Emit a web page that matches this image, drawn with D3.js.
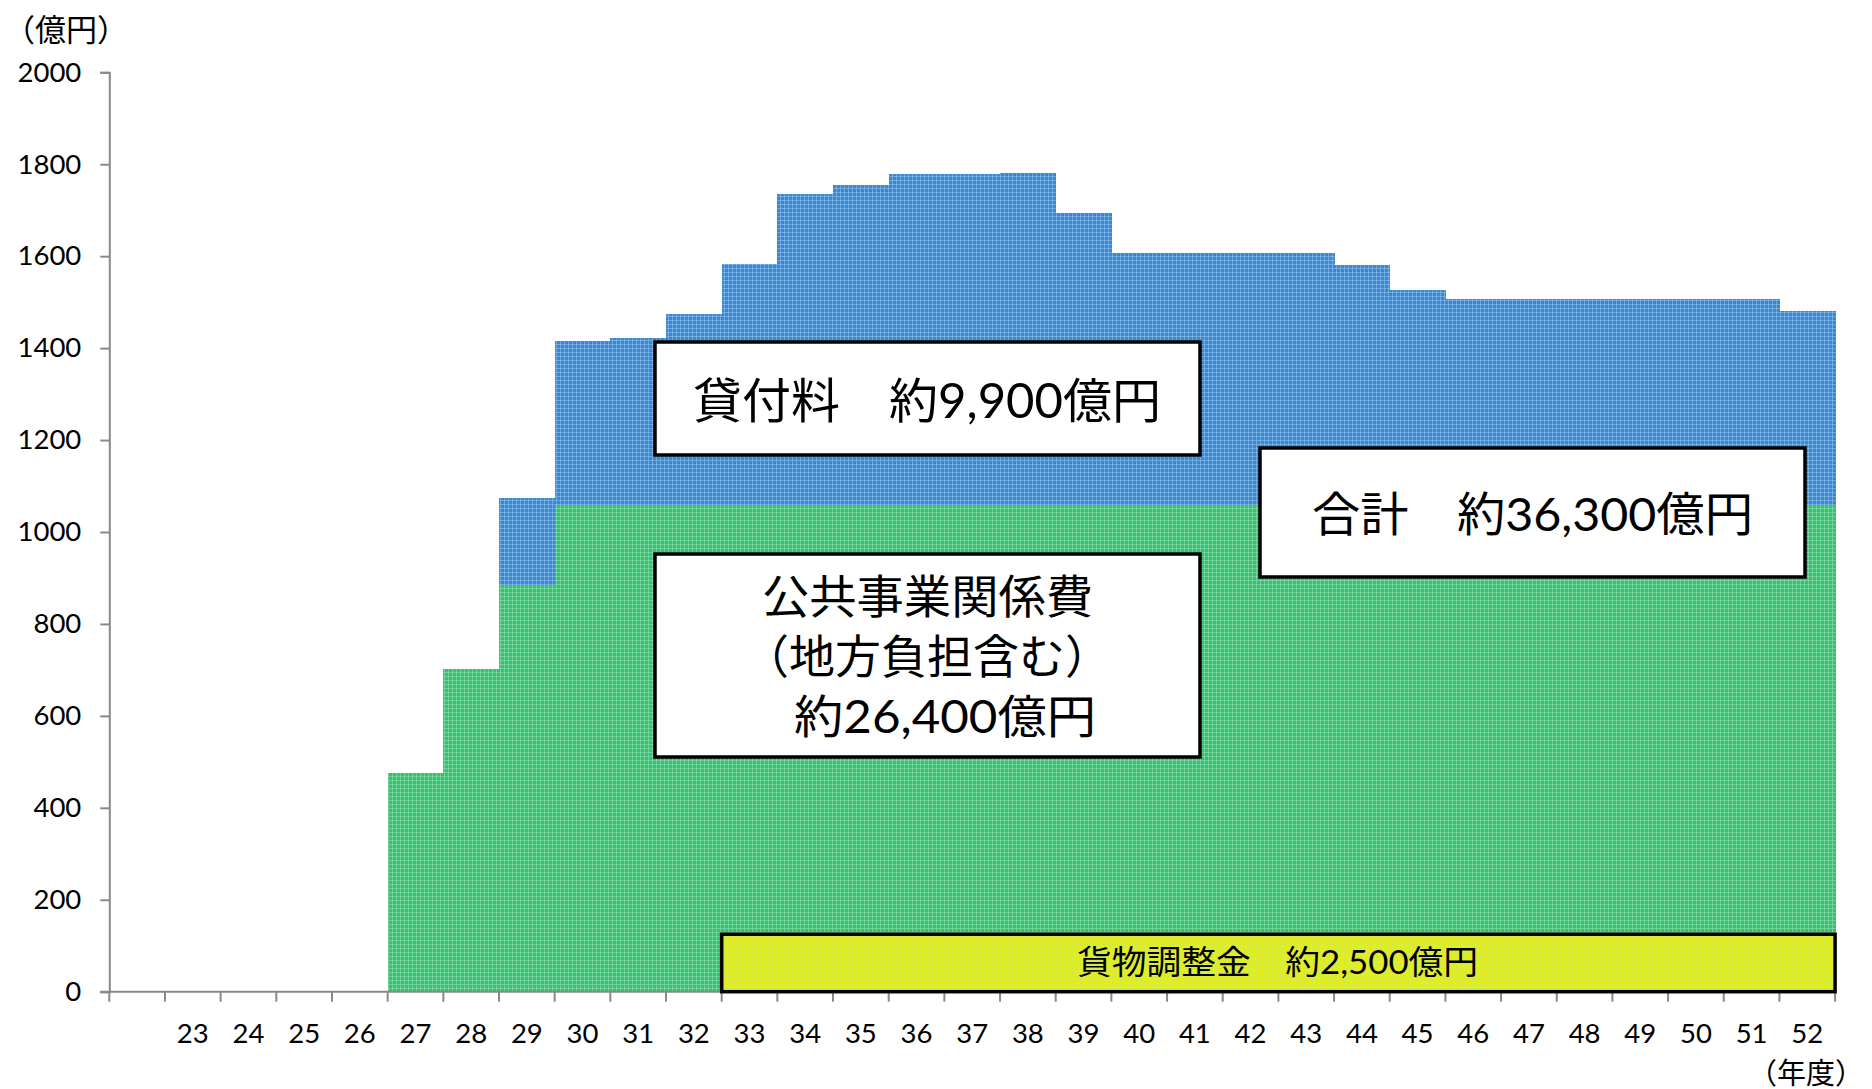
<!DOCTYPE html>
<html>
<head>
<meta charset="utf-8">
<script src="https://cdn.jsdelivr.net/npm/d3@7"></script>
<style>
  html, body { margin: 0; padding: 0; background: #ffffff; }
  svg { display: block; }
  text { font-family: Lato, "Noto Sans CJK JP", sans-serif; fill: #000; }
</style>
</head>
<body>
<svg id="chart" width="1872" height="1089"></svg>
<script>
// ---- data ----
const yearLabels = ["", "23", "24", "25", "26", "27", "28", "29", "30", "31", "32",
  "33", "34", "35", "36", "37", "38", "39", "40", "41", "42",
  "43", "44", "45", "46", "47", "48", "49", "50", "51", "52"];
// 公共事業関係費（地方負担含む）
const publicWorks = [0, 0, 0, 0, 0, 475, 701, 885, 1059, 1059, 1059,
  1059, 1059, 1059, 1059, 1059, 1059, 1059, 1059, 1059, 1059,
  1059, 1059, 1059, 1059, 1059, 1059, 1059, 1059, 1059, 1059];
// 貸付料
const leaseFee = [0, 0, 0, 0, 0, 0, 0, 190, 357, 364, 415,
  525, 676, 696, 719, 719, 722, 634, 547, 547, 547,
  547, 521, 467, 448, 448, 448, 448, 448, 448, 421];
// 貨物調整金
const freightAdj = [0, 0, 0, 0, 0, 0, 0, 0, 0, 0, 0,
  125, 125, 125, 125, 125, 125, 125, 125, 125, 125,
  125, 125, 125, 125, 125, 125, 125, 125, 125, 125];
const yTicks = [0, 200, 400, 600, 800, 1000, 1200, 1400, 1600, 1800, 2000];

// ---- layout ----
const svg = d3.select("#chart");
const x0 = 109.3, x1 = 1835.1, yBase = 991.7, yTop = 72.3;

const x = d3.scaleBand().domain(d3.range(yearLabels.length)).range([x0, x1]).padding(0);
const y = d3.scaleLinear().domain([0, 2000]).range([yBase, yTop]);

// patterns mimicking the textured fills
const defs = svg.append("defs");
function makePattern(id, base, light) {
  const p = defs.append("pattern").attr("id", id).attr("patternUnits", "userSpaceOnUse")
    .attr("width", 4).attr("height", 4);
  p.append("rect").attr("width", 4).attr("height", 4).attr("fill", base);
  p.append("rect").attr("x", 0).attr("y", 0).attr("width", 4).attr("height", 1).attr("fill", light).attr("opacity", 0.55);
  p.append("rect").attr("x", 0).attr("y", 0).attr("width", 1).attr("height", 4).attr("fill", light).attr("opacity", 0.55);
}
makePattern("pGreen", "#35c072", "#93dfb1");
makePattern("pBlue", "#3b88d2", "#93c2ee");
makePattern("pYellow", "#eeee00", "#c8e85a");

const table = yearLabels.map((lab, i) => ({ i, publicWorks: publicWorks[i], leaseFee: leaseFee[i] }));
const stack = d3.stack().keys(["publicWorks", "leaseFee"]);
const series = stack(table);
const fills = { publicWorks: "url(#pGreen)", leaseFee: "url(#pBlue)" };

const gBars = svg.append("g").attr("shape-rendering", "crispEdges");
series.forEach(s => {
  gBars.selectAll(null).data(s.filter(d => d[1] - d[0] > 0)).join("rect")
    .attr("x", d => x(d.data.i))
    .attr("width", x.bandwidth() + 0.5)
    .attr("y", d => y(d[1]))
    .attr("height", d => y(d[0]) - y(d[1]))
    .attr("fill", fills[s.key]);
});

// ---- axes ----
const axisColor = "#898989";
const gy = svg.append("g").attr("transform", `translate(${x0},0)`)
  .call(d3.axisLeft(y).tickValues(yTicks).tickSize(9).tickPadding(19).tickFormat(d3.format("d")));
gy.select(".domain").attr("stroke", axisColor).attr("stroke-width", 2);
gy.selectAll(".tick line").attr("stroke", axisColor).attr("stroke-width", 2);
gy.selectAll(".tick text").attr("font-size", 27.5).attr("font-family", "Lato, 'Noto Sans CJK JP', sans-serif").attr("fill", "#000");

// x axis: ticks at category boundaries, labels centered
const gx = svg.append("g");
gx.append("line").attr("x1", x0 - 9).attr("x2", x1).attr("y1", yBase).attr("y2", yBase)
  .attr("stroke", axisColor).attr("stroke-width", 2);
const boundaries = d3.range(yearLabels.length + 1).map(i => i < yearLabels.length ? x(i) : x1);
gx.selectAll("line.tk").data(boundaries).join("line").attr("class", "tk")
  .attr("x1", d => d).attr("x2", d => d).attr("y1", yBase).attr("y2", yBase + 10)
  .attr("stroke", axisColor).attr("stroke-width", 2);
gx.selectAll("text").data(yearLabels).join("text")
  .attr("x", (d, i) => x(i) + x.bandwidth() / 2)
  .attr("y", 1032)
  .attr("text-anchor", "middle").attr("dominant-baseline", "central")
  .attr("font-size", 27.5)
  .text(d => d);

// unit labels
svg.append("text").attr("x", 66).attr("y", 29).attr("text-anchor", "middle")
  .attr("dominant-baseline", "central").attr("font-size", 31).text("（億円）");
svg.append("text").attr("x", 1864).attr("y", 1072).attr("text-anchor", "end")
  .attr("dominant-baseline", "central").attr("font-size", 29).text("（年度）");

// ---- 貨物調整金 box (drawn from data) ----
const fIdx = freightAdj.map((v, i) => v > 0 ? i : -1).filter(i => i >= 0);
const fVal = d3.max(freightAdj);
const fx0 = x(fIdx[0]), fx1 = x(fIdx[fIdx.length - 1]) + x.bandwidth();
svg.append("rect").attr("x", fx0).attr("y", y(fVal)).attr("width", fx1 - fx0)
  .attr("height", y(0) - y(fVal)).attr("fill", "url(#pYellow)")
  .attr("stroke", "#000").attr("stroke-width", 3.5);
svg.append("text").attr("x", 1077).attr("y", 961).attr("dominant-baseline", "central")
  .attr("font-size", 33).attr("textLength", 401).attr("lengthAdjust", "spacingAndGlyphs")
  .text("貨物調整金　約2,500億円");

// ---- annotation boxes ----
function box(xa, ya, xb, yb) {
  svg.append("rect").attr("x", xa).attr("y", ya).attr("width", xb - xa).attr("height", yb - ya)
    .attr("fill", "#fff").attr("stroke", "#000").attr("stroke-width", 3.5);
}
box(655, 342, 1200, 455);
svg.append("text").attr("x", 693).attr("y", 399).attr("dominant-baseline", "central")
  .attr("font-size", 48).attr("textLength", 468).attr("lengthAdjust", "spacingAndGlyphs")
  .text("貸付料　約9,900億円");

box(1260, 448, 1805, 577);
svg.append("text").attr("x", 1312).attr("y", 513).attr("dominant-baseline", "central")
  .attr("font-size", 47).attr("textLength", 441).attr("lengthAdjust", "spacingAndGlyphs")
  .text("合計　約36,300億円");

box(655, 554, 1200, 757);
svg.append("text").attr("x", 762).attr("y", 595).attr("dominant-baseline", "central")
  .attr("font-size", 46).attr("textLength", 331).attr("lengthAdjust", "spacingAndGlyphs")
  .text("公共事業関係費");
svg.append("text").attr("x", 927).attr("y", 655).attr("text-anchor", "middle").attr("dominant-baseline", "central")
  .attr("font-size", 46)
  .text("（地方負担含む）");
svg.append("text").attr("x", 794).attr("y", 715).attr("dominant-baseline", "central")
  .attr("font-size", 46).attr("textLength", 302).attr("lengthAdjust", "spacingAndGlyphs")
  .text("約26,400億円");
</script>
</body>
</html>
